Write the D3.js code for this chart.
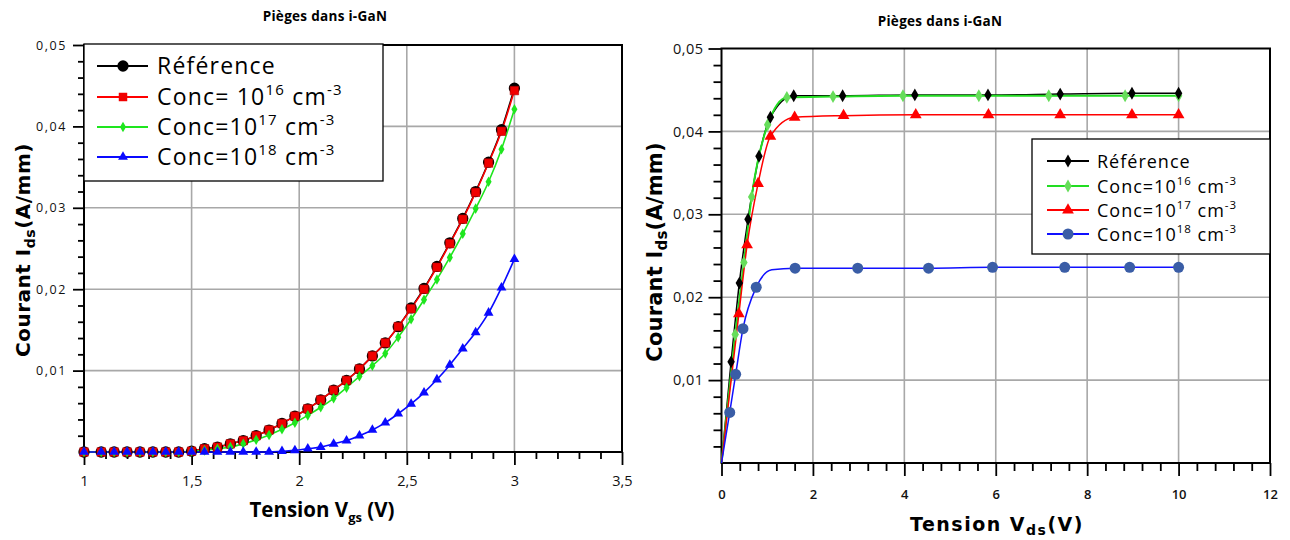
<!DOCTYPE html>
<html><head><meta charset="utf-8">
<script src="https://cdn.jsdelivr.net/npm/d3@7/dist/d3.min.js"></script>
<style>body{margin:0;background:#fff}</style>
</head><body>
<svg id="c" width="1290" height="540"></svg>
<script>
// ---------- DATA : left chart (Ids vs Vgs) ----------
const vgs = [1.00,1.08,1.14,1.20,1.26,1.32,1.38,1.44,1.50,1.56,1.62,1.68,1.74,1.80,1.86,1.92,1.98,2.04,2.10,2.16,2.22,2.28,2.34,2.40,2.46,2.52,2.58,2.64,2.70,2.76,2.82,2.88,2.94,3.00];
const idsRefL = [0,0,0,0,0,0,0,0,0.0001,0.0004,0.0006,0.0010,0.0014,0.0020,0.0027,0.0035,0.0044,0.0053,0.0064,0.0076,0.0088,0.0102,0.0118,0.0134,0.0154,0.0177,0.0201,0.0228,0.0257,0.0287,0.0320,0.0356,0.0396,0.0447];
const idsC16L = [0,0,0,0,0,0,0,0,0.0001,0.0004,0.0006,0.0010,0.0014,0.0020,0.0027,0.0035,0.0044,0.0053,0.0064,0.0076,0.0088,0.0102,0.0118,0.0134,0.0154,0.0176,0.0200,0.0227,0.0256,0.0286,0.0319,0.0355,0.0394,0.0444];
const idsC17L = [0,0,0,0,0,0,0,0,0.0001,0.0002,0.0004,0.0006,0.0010,0.0015,0.0021,0.0028,0.0036,0.0045,0.0055,0.0066,0.0079,0.0093,0.0106,0.0121,0.0141,0.0163,0.0187,0.0212,0.0239,0.0268,0.0299,0.0332,0.0372,0.0421];
const idsC18L = [0,0,0,0,0,0,0,0,0,0,0,0,0,0,0,0.0001,0.0002,0.0004,0.0006,0.0010,0.0014,0.0020,0.0027,0.0036,0.0047,0.0059,0.0073,0.0089,0.0107,0.0127,0.0147,0.0171,0.0202,0.0237];

// ---------- DATA : right chart (Ids vs Vds) ----------
// index 0 (origin) and indices listed in noMark* are curve points without a marker
const vdsRef = [0,0.21,0.39,0.58,0.82,1.07,1.58,2.65,4.23,5.83,7.41,8.98,10.0];
const idsRefR = [0,0.0122,0.0217,0.0294,0.0370,0.0417,0.0443,0.0443,0.0444,0.0444,0.0445,0.0446,0.0446];
const noMarkRef = [0];
const vdsC16 = [0,0.30,0.49,0.66,1.01,1.43,2.44,3.97,5.63,7.16,8.83,10.0];
const idsC16R = [0,0.0155,0.0242,0.0321,0.0408,0.0441,0.0442,0.0443,0.0443,0.0443,0.0443,0.0443];
const noMarkC16 = [0];
const vdsC17 = [0,0.38,0.56,0.80,1.07,1.60,2.67,4.25,5.84,7.41,8.98,10.0];
const idsC17R = [0,0.0180,0.0263,0.0337,0.0394,0.0417,0.0419,0.0420,0.0420,0.0420,0.0420,0.0420];
const noMarkC17 = [0];
const vdsC18 = [0,0.18,0.31,0.47,0.76,1.10,1.61,2.98,4.53,5.93,7.51,8.93,10.0];
const idsC18R = [0,0.0061,0.0107,0.0162,0.0212,0.0233,0.0235,0.0235,0.0235,0.0236,0.0236,0.0236,0.0236];
const noMarkC18 = [0,5];

// ---------- TICKS / LABELS ----------
const xTicksL = [1,1.5,2,2.5,3,3.5];
const xTickLabelsL = ["1","1,5","2","2,5","3","3,5"];
const yTicks = [0.01,0.02,0.03,0.04,0.05];
const yTickLabels = ["0,01","0,02","0,03","0,04","0,05"];
const xTicksR = [0,2,4,6,8,10,12];
const xTickLabelsR = ["0","2","4","6","8","10","12"];
const title = "Pièges dans i-GaN";
const legendL = [
  [{t:"Référence"}],
  [{t:"Conc= 10"},{t:"16",s:1},{t:" cm"},{t:"-3",s:1}],
  [{t:"Conc=10"},{t:"17",s:1},{t:" cm"},{t:"-3",s:1}],
  [{t:"Conc=10"},{t:"18",s:1},{t:" cm"},{t:"-3",s:1}]
];
const legendR = [
  [{t:"Référence"}],
  [{t:"Conc=10"},{t:"16",s:1},{t:" cm"},{t:"-3",s:1}],
  [{t:"Conc=10"},{t:"17",s:1},{t:" cm"},{t:"-3",s:1}],
  [{t:"Conc=10"},{t:"18",s:1},{t:" cm"},{t:"-3",s:1}]
];

// ---------- helpers ----------
const svg = d3.select("#c");
function rich(sel, parts, size, subSize, shift){
  let cur = 0;
  parts.forEach(p=>{
    const ts = sel.append("tspan").text(p.t);
    let target = p.s===1 ? -shift : (p.s===-1 ? shift : 0);
    if (target!==cur){ ts.attr("dy", target-cur); cur = target; }
    ts.attr("font-size", p.s ? subSize : size);
  });
}
function minorTicks(step, a, b, majors){
  const out=[]; const n=Math.round((b-a)/step);
  for(let i=0;i<=n;i++){const v=+(a+i*step).toFixed(6); if(!majors.some(m=>Math.abs(m-v)<1e-9)) out.push(v);}
  return out;
}
function grid(g, x, y, xMaj, yMaj){
  const [x0,x1]=x.range(), [y0,y1]=y.range();
  g.append("g").selectAll("line").data(xMaj.filter(v=>v>x.domain()[0]&&v<x.domain()[1])).join("line")
    .attr("x1",d=>x(d)).attr("x2",d=>x(d)).attr("y1",y0).attr("y2",y1)
    .attr("stroke","#a8a8a8").attr("stroke-width",1.6);
  g.append("g").selectAll("line").data(yMaj.filter(v=>v>y.domain()[0]&&v<y.domain()[1])).join("line")
    .attr("y1",d=>y(d)).attr("y2",d=>y(d)).attr("x1",x0).attr("x2",x1)
    .attr("stroke","#a8a8a8").attr("stroke-width",1.6);
}
function drawAxis(g, ax, transform, st){
  const a = g.append("g").attr("transform", transform).call(ax);
  a.select(".domain").remove();
  a.selectAll("line").attr("stroke","#000").attr("stroke-width",1.8);
  a.selectAll("text").attr("fill","#111").attr("font-family","Open Sans").attr("font-size",st.size)
    .attr("letter-spacing",st.ls||0).attr("font-weight",st.w||400);
  return a;
}

// ================= LEFT CHART =================
const xL = d3.scaleLinear([1,3.5],[84,622]);
const yL = d3.scaleLinear([0,0.05],[452,45]);
const gL = svg.append("g");
grid(gL, xL, yL, xTicksL, yTicks);

drawAxis(gL, d3.axisBottom(xL).tickValues(minorTicks(0.1,1,3.5,xTicksL)).tickSize(7).tickFormat(""), `translate(0,${yL(0)})`, {size:10});
drawAxis(gL, d3.axisBottom(xL).tickValues(xTicksL).tickSize(13).tickFormat((d,i)=>xTickLabelsL[i]).tickPadding(11), `translate(0,${yL(0)})`, {size:14.5});
drawAxis(gL, d3.axisLeft(yL).tickValues(minorTicks(0.002,0,0.05,yTicks.concat([0]))).tickSize(6).tickFormat(""), `translate(${xL(1)},0)`, {size:10});
drawAxis(gL, d3.axisLeft(yL).tickValues(yTicks).tickSize(11).tickFormat((d,i)=>yTickLabels[i]).tickPadding(6), `translate(${xL(1)},0)`, {size:12.5, ls:1.6});
gL.append("rect").attr("x",xL(1)).attr("y",yL(0.05)).attr("width",xL(3.5)-xL(1)).attr("height",yL(0)-yL(0.05))
  .attr("fill","none").attr("stroke","#000").attr("stroke-width",2);

// series
const lineL = d3.line().x(d=>xL(d[0])).y(d=>yL(d[1])).curve(d3.curveMonotoneX);
const seriesL = [
  {v:idsRefL, c:"#000000"},
  {v:idsC16L, c:"#ff0000"},
  {v:idsC17L, c:"#1ee61e"},
  {v:idsC18L, c:"#0a0aff"}
];
seriesL.forEach(s=>{
  gL.append("path").attr("d", lineL(vgs.map((x,i)=>[x,s.v[i]]))).attr("fill","none")
    .attr("stroke",s.c).attr("stroke-width",1.6);
});
const symL = [
  d3.symbol().type(d3.symbolCircle).size(100),
  d3.symbol().type(d3.symbolSquare).size(72),
  d3.symbol().type(d3.symbolDiamond).size(32),
  d3.symbol().type(d3.symbolTriangle).size(42)
];
const mColL = ["#000000","#f00000","#1ee61e","#0a0aff"];
seriesL.forEach((s,k)=>{
  gL.append("g").selectAll("path").data(vgs.map((x,i)=>[x,s.v[i]])).join("path")
    .attr("transform",d=>`translate(${xL(d[0])},${yL(d[1])})`).attr("d",symL[k]())
    .attr("fill",mColL[k]).attr("stroke", k===1?"#b00000":"none").attr("stroke-width",0.6);
});

// legend left
const lgL = gL.append("g");
lgL.append("rect").attr("x",84).attr("y",44).attr("width",299).attr("height",137)
  .attr("fill","#fff").attr("stroke","#000").attr("stroke-width",1.3);
const lgRowsL = [66,97,127,157];
legendL.forEach((parts,k)=>{
  const yy = lgRowsL[k];
  lgL.append("line").attr("x1",97).attr("x2",148).attr("y1",yy).attr("y2",yy).attr("stroke",seriesL[k].c).attr("stroke-width",1.8);
  lgL.append("path").attr("transform",`translate(123,${yy})`).attr("d",symL[k]()).attr("fill",mColL[k]);
  const t = lgL.append("text").attr("x",157).attr("y",yy+8).attr("font-family","Open Sans")
    .attr("font-size",23).attr("letter-spacing",1.2).attr("fill","#000");
  rich(t, parts, 23, 15, 10);
});

// titles left
svg.append("text").attr("x",325).attr("y",21).attr("text-anchor","middle").attr("font-family","Open Sans")
  .attr("font-weight","bold").attr("font-size",13.5).attr("letter-spacing",0.3).text(title);
{
  const t = svg.append("text").attr("x",322).attr("y",517).attr("text-anchor","middle").attr("font-family","Open Sans")
    .attr("font-weight","bold").attr("font-size",20.5);
  rich(t, [{t:"Tension V"},{t:"gs",s:-1},{t:" (V)"}], 20.5, 13, 5);
}
{
  const t = svg.append("text").attr("transform","translate(30,250) rotate(-90)").attr("text-anchor","middle")
    .attr("font-family","DejaVu Sans").attr("font-weight","bold").attr("font-size",20).attr("letter-spacing",0.5);
  rich(t, [{t:"Courant I"},{t:"ds",s:-1},{t:"(A/mm)"}], 20, 14, 5);
}

// ================= RIGHT CHART =================
const xR = d3.scaleLinear([0,12],[721.5,1270]);
const yR = d3.scaleLinear([0,0.05],[463,48.5]);
const gR = svg.append("g");
grid(gR, xR, yR, xTicksR, yTicks);
drawAxis(gR, d3.axisBottom(xR).tickValues(minorTicks(0.4,0,12,xTicksR)).tickSize(8).tickFormat(""), `translate(0,${yR(0)})`, {size:10});
drawAxis(gR, d3.axisBottom(xR).tickValues(xTicksR).tickSize(13).tickFormat((d,i)=>xTickLabelsR[i]).tickPadding(14), `translate(0,${yR(0)})`, {size:13, w:600});
drawAxis(gR, d3.axisLeft(yR).tickValues(minorTicks(0.002,0,0.05,yTicks.concat([0]))).tickSize(8).tickFormat(""), `translate(${xR(0)},0)`, {size:10});
drawAxis(gR, d3.axisLeft(yR).tickValues(yTicks).tickSize(13).tickFormat((d,i)=>yTickLabels[i]).tickPadding(5), `translate(${xR(0)},0)`, {size:14.5, ls:0.5});
gR.append("rect").attr("x",xR(0)).attr("y",yR(0.05)).attr("width",xR(12)-xR(0)).attr("height",yR(0)-yR(0.05))
  .attr("fill","none").attr("stroke","#000").attr("stroke-width",2);

const lineR = d3.line().x(d=>xR(d[0])).y(d=>yR(d[1])).curve(d3.curveMonotoneX);
const seriesR = [
  {x:vdsRef, v:idsRefR, nm:noMarkRef, c:"#000000", m:"#000000", sym:d3.symbol().type(d3.symbolDiamond).size(48), w:1.5},
  {x:vdsC16, v:idsC16R, nm:noMarkC16, c:"#22dd22", m:"#66dd5a", sym:d3.symbol().type(d3.symbolDiamond).size(48), w:2},
  {x:vdsC17, v:idsC17R, nm:noMarkC17, c:"#ff0000", m:"#ff0000", sym:d3.symbol().type(d3.symbolTriangle).size(60), w:1.5},
  {x:vdsC18, v:idsC18R, nm:noMarkC18, c:"#1010ff", m:"#3a5da6", sym:d3.symbol().type(d3.symbolCircle).size(95), w:1.5}
];
seriesR.forEach(s=>{
  gR.append("path").attr("d", lineR(s.x.map((x,i)=>[x,s.v[i]]))).attr("fill","none")
    .attr("stroke",s.c).attr("stroke-width",s.w);
});
[1,2,3,0].forEach(k=>{
  const s = seriesR[k];
  gR.append("g").selectAll("path").data(s.x.map((x,i)=>[x,s.v[i],i]).filter(d=>!s.nm.includes(d[2]))).join("path")
    .attr("transform",d=>`translate(${xR(d[0])},${yR(d[1])})`).attr("d",s.sym()).attr("fill",s.m);
});

// legend right
const lgR = gR.append("g");
lgR.append("rect").attr("x",1032).attr("y",139).attr("width",238).attr("height",115)
  .attr("fill","#fff").attr("stroke","#000").attr("stroke-width",1.3);
const lgRowsR = [161,186,210,234];
legendR.forEach((parts,k)=>{
  const yy = lgRowsR[k], s = seriesR[k];
  lgR.append("line").attr("x1",1047).attr("x2",1089).attr("y1",yy).attr("y2",yy).attr("stroke",s.c).attr("stroke-width",1.8);
  lgR.append("path").attr("transform",`translate(1068,${yy})`).attr("d",s.sym()).attr("fill",s.m);
  const t = lgR.append("text").attr("x",1097).attr("y",yy+6.5).attr("font-family","Open Sans")
    .attr("font-size",18).attr("letter-spacing",1).attr("fill","#000");
  rich(t, parts, 18, 11.5, 8);
});

// titles right
svg.append("text").attr("x",940).attr("y",26).attr("text-anchor","middle").attr("font-family","Open Sans")
  .attr("font-weight","bold").attr("font-size",13.5).attr("letter-spacing",0.3).text(title);
{
  const t = svg.append("text").attr("x",997).attr("y",531).attr("text-anchor","middle").attr("font-family","DejaVu Sans")
    .attr("font-weight","bold").attr("font-size",19).attr("letter-spacing",1.5);
  rich(t, [{t:"Tension V"},{t:"ds",s:-1},{t:"(V)"}], 19, 14, 4);
}
{
  const t = svg.append("text").attr("transform","translate(662,252) rotate(-90)").attr("text-anchor","middle")
    .attr("font-family","DejaVu Sans").attr("font-weight","bold").attr("font-size",21).attr("letter-spacing",0.2);
  rich(t, [{t:"Courant I"},{t:"ds",s:-1},{t:"(A/mm)"}], 21, 15, 5);
}
</script>
</body></html>
